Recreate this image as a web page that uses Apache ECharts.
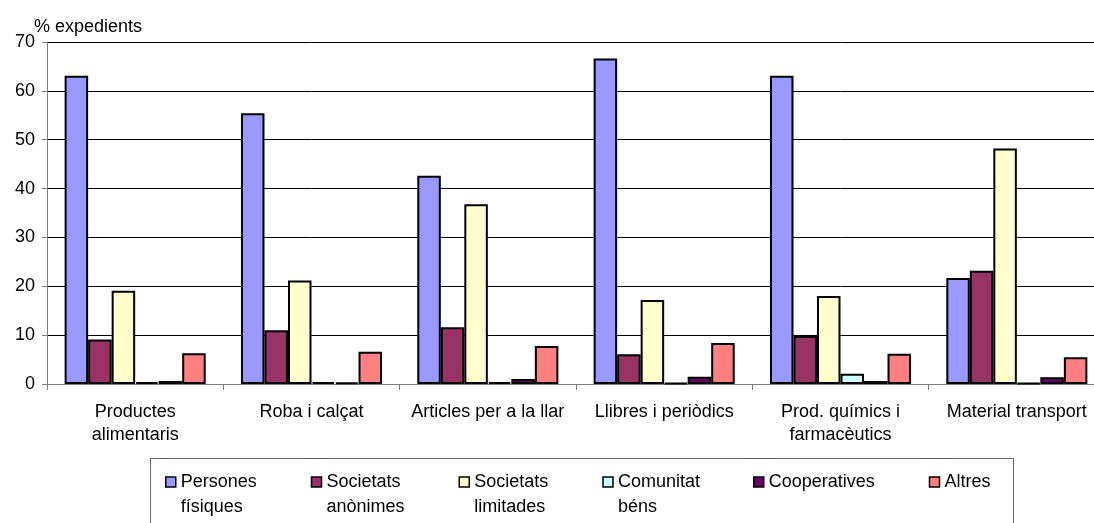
<!DOCTYPE html>
<html>
<head>
<meta charset="utf-8">
<script src="https://cdn.jsdelivr.net/npm/echarts@6/dist/echarts.min.js"></script>
<style>
html,body{margin:0;padding:0;background:#fff;overflow:hidden;width:1094px;height:523px;}
#c{width:1105px;height:523px;}
</style>
</head>
<body>
<div id="c"></div>
<script>
const categories = ['Productes\nalimentaris', 'Roba i calçat', 'Articles per a la llar', 'Llibres i periòdics', 'Prod. químics i\nfarmacèutics', 'Material transport'];
const seriesNames = ['Persones físiques', 'Societats anònimes', 'Societats limitades', 'Comunitat béns', 'Cooperatives', 'Altres'];
const legendLabels = [' \nPersones\nfísiques', ' \nSocietats\nanònimes', ' \nSocietats\nlimitades', ' \nComunitat\nbéns', 'Cooperatives', 'Altres'];
const persones = [63.1, 55.4, 42.6, 66.6, 63.1, 21.7];
const anonimes = [9.1, 11.0, 11.6, 6.1, 9.8, 23.2];
const limitades = [19.1, 21.2, 36.8, 17.2, 18.0, 48.2];
const comunitat = [0.4, 0.4, 0.4, 0.2, 2.1, 0.2];
const cooperatives = [0.6, 0.3, 1.0, 1.5, 0.6, 1.4];
const altres = [6.3, 6.6, 7.8, 8.4, 6.2, 5.5];
const yTicks = [0, 10, 20, 30, 40, 50, 60, 70];
const colors = ['#9999FF', '#993366', '#FFFFCC', '#CCFFFF', '#660066', '#FF8080'];
const values = [persones, anonimes, limitades, comunitat, cooperatives, altres];
const legendWidths = [130, 132, 128, 135, 160, 60];

const FONT = 'Liberation Sans, Arial, sans-serif';
const chart = echarts.init(document.getElementById('c'), null, {renderer: 'canvas'});
chart.setOption({
  animation: false,
  backgroundColor: '#fff',
  textStyle: {fontFamily: FONT},
  title: {
    text: '% expedients', left: 29, top: 13,
    textStyle: {fontFamily: FONT, fontSize: 18, fontWeight: 'normal', color: '#000'}
  },
  grid: {left: 47, top: 42, right: 0, height: 342, containLabel: false},
  graphic: [{
    type: 'rect', left: 148, top: 456, z: 0,
    shape: {width: 863, height: 80},
    style: {fill: 'none', stroke: '#666', lineWidth: 1}
  }],
  legend: {
    data: seriesNames.map(function (n, i) {
      return {name: n, textStyle: {width: legendWidths[i]}};
    }),
    left: 165, top: 444.5, padding: 0,
    itemWidth: 10, itemHeight: 10, itemGap: 0,
    icon: 'rect',
    formatter: function (n) { return legendLabels[seriesNames.indexOf(n)]; },
    textStyle: {fontFamily: FONT, fontSize: 18, color: '#000', lineHeight: 25},
    itemStyle: {borderColor: '#000', borderWidth: 1.5}
  },
  xAxis: {
    type: 'category', data: categories, boundaryGap: true,
    axisLine: {lineStyle: {color: '#808080', width: 1}},
    axisTick: {show: true, length: 6, alignWithLabel: false, lineStyle: {color: '#808080'}},
    axisLabel: {color: '#000', fontSize: 18, fontFamily: FONT, margin: 17, lineHeight: 23, interval: 0}
  },
  yAxis: {
    type: 'value', min: 0, max: 70, interval: 10,
    axisLine: {show: true, lineStyle: {color: '#808080', width: 1}},
    axisTick: {show: true, length: 5, lineStyle: {color: '#808080'}},
    axisLabel: {color: '#000', fontSize: 18, fontFamily: FONT, margin: 12,
      formatter: function (v) { return yTicks.indexOf(v) >= 0 ? String(v) : ''; }},
    splitLine: {show: true, lineStyle: {color: '#000', width: 1}}
  },
  series: values.map(function (vals, i) {
    return {
      name: seriesNames[i], type: 'bar', data: vals,
      barGap: '0%', barCategoryGap: '20%',
      itemStyle: {color: colors[i], borderColor: '#000', borderWidth: 2}
    };
  })
});
</script>
</body>
</html>
